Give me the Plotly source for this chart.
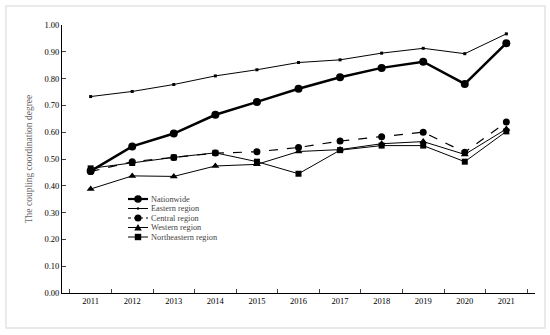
import plotly.graph_objects as go

years = ["2011", "2012", "2013", "2014", "2015", "2016", "2017", "2018", "2019", "2020", "2021"]
nationwide = [0.455, 0.547, 0.595, 0.665, 0.713, 0.762, 0.805, 0.840, 0.863, 0.780, 0.932]
eastern = [0.733, 0.752, 0.778, 0.810, 0.833, 0.860, 0.870, 0.895, 0.913, 0.893, 0.967]
central = [0.453, 0.490, 0.506, 0.522, 0.527, 0.543, 0.567, 0.583, 0.600, 0.525, 0.638]
western = [0.388, 0.437, 0.435, 0.474, 0.480, 0.528, 0.535, 0.557, 0.565, 0.517, 0.612]
northeastern = [0.465, 0.485, 0.506, 0.523, 0.490, 0.445, 0.533, 0.550, 0.550, 0.490, 0.603]
series_names = ["Nationwide", "Eastern region", "Central region", "Western region", "Northeastern region"]
y_ticks = [0.0, 0.1, 0.2, 0.3, 0.4, 0.5, 0.6, 0.7, 0.8, 0.9, 1.0]

font = "Liberation Serif, Times New Roman, serif"

# plot area in pixels
L, R, T, B = 62, 535, 25, 293
W, H = 550, 335


def px_x(px):
    return (px - L) / (R - L)


def px_y(py):
    return (B - py) / (B - T)


styles = [
    dict(line=dict(color="black", width=2.5), marker=dict(symbol="circle", size=8, color="black")),
    dict(line=dict(color="black", width=1), marker=dict(symbol="square", size=3, color="black")),
    dict(line=dict(color="black", width=1.2, dash="dash"), marker=dict(symbol="circle", size=7, color="black")),
    dict(line=dict(color="black", width=1), marker=dict(symbol="triangle-up", size=7, color="black")),
    dict(line=dict(color="black", width=1), marker=dict(symbol="square", size=6, color="black")),
]
data = [nationwide, eastern, central, western, northeastern]

fig = go.Figure()
for name, vals, st in zip(series_names, data, styles):
    fig.add_trace(go.Scatter(x=years, y=vals, name=name, mode="lines+markers",
                             line=st["line"], marker=st["marker"], showlegend=False))

# outer frame
shapes = [dict(type="rect", xref="paper", yref="paper", x0=px_x(6), x1=px_x(545), y0=px_y(328), y1=px_y(6),
               line=dict(color="#e3e3e3", width=1.5), fillcolor="rgba(0,0,0,0)", layer="below")]
# custom compact legend
annotations = []
row_y = [199, 208.5, 218, 227.5, 237]
marker_shapes = ["circle", "dot", "circle", "triangle", "square"]
marker_sizes = [3.8, 1.2, 3.5, 3.8, 3.2]
line_widths = [2.2, 1, 1.2, 1, 1]
dashes = ["solid", "solid", "dash", "solid", "solid"]
for name, py, ms, sz, lw, ds in zip(series_names, row_y, marker_shapes, marker_sizes, line_widths, dashes):
    yy = px_y(py)
    shapes.append(dict(type="line", xref="paper", yref="paper", x0=px_x(128), x1=px_x(148), y0=yy, y1=yy,
                       line=dict(color="black", width=lw, dash=ds if ds == "solid" else "3px,3px")))
    xa = px_x(138)
    if ms in ("circle", "dot"):
        shapes.append(dict(type="circle", xref="paper", yref="paper", xsizemode="pixel", ysizemode="pixel",
                           xanchor=xa, yanchor=yy, x0=-sz, x1=sz, y0=-sz, y1=sz,
                           fillcolor="black", line=dict(width=0)))
    elif ms == "square":
        shapes.append(dict(type="rect", xref="paper", yref="paper", xsizemode="pixel", ysizemode="pixel",
                           xanchor=xa, yanchor=yy, x0=-sz, x1=sz, y0=-sz, y1=sz,
                           fillcolor="black", line=dict(width=0)))
    else:
        shapes.append(dict(type="path", xref="paper", yref="paper", xsizemode="pixel", ysizemode="pixel",
                           xanchor=xa, yanchor=yy, path=f"M {-sz} {-sz*0.8} L {sz} {-sz*0.8} L 0 {sz*0.9} Z",
                           fillcolor="black", line=dict(width=0)))
    annotations.append(dict(text=name, xref="paper", yref="paper", x=px_x(149), y=yy, xanchor="left",
                            yanchor="middle", showarrow=False, font=dict(family=font, size=8.3, color="#444")))

fig.update_layout(
    width=W, height=H,
    margin=dict(l=L, r=W - R, t=T, b=H - B),
    paper_bgcolor="white", plot_bgcolor="white",
    font=dict(family=font, size=8.5, color="black"),
    showlegend=False,
    xaxis=dict(type="category", tickson="boundaries", ticks="inside", ticklen=4, automargin=False,
               showline=True, linecolor="black", linewidth=1, showgrid=False,
               tickfont=dict(family=font, size=8.5)),
    yaxis=dict(range=[0, 1.0], tickvals=y_ticks, tickformat=".2f", ticks="inside", ticklen=4, automargin=False,
               showline=True, linecolor="black", linewidth=1, showgrid=False, zeroline=False,
               title=dict(text="The coupling coordination degree", font=dict(family=font, size=9.5, color="#666"), standoff=10),
               tickfont=dict(family=font, size=8.5)),
    shapes=shapes,
    annotations=annotations,
)

fig.write_html("out.html", config={"displayModeBar": False},
               post_script="document.body.style.margin='0';")
